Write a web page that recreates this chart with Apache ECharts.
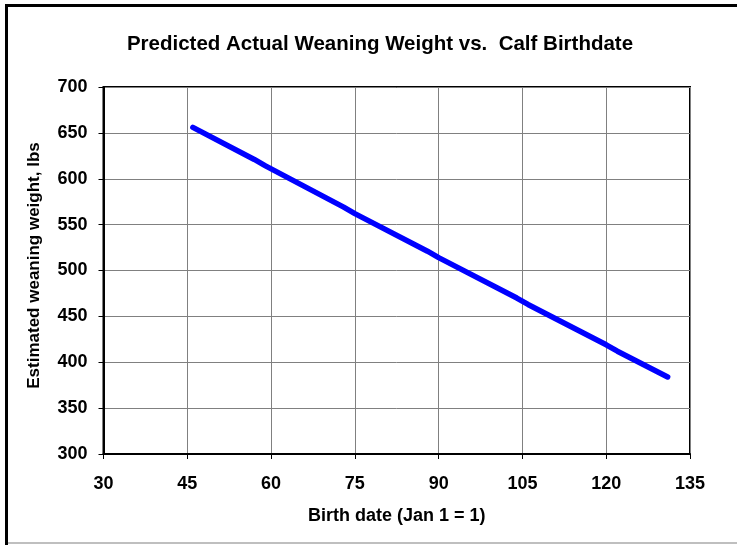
<!DOCTYPE html>
<html>
<head>
<meta charset="utf-8">
<script src="https://cdn.jsdelivr.net/npm/echarts@6/dist/echarts.min.js"></script>
<style>
  html, body { margin: 0; padding: 0; background: #fff; }
  #chart { width: 737px; height: 545px; }
</style>
</head>
<body>
<div id="chart"></div>
<script>
// 出生日期 (Jan 1 = 1) 和 预测断奶体重
const birthDays = [46, 57, 59, 73, 75, 88, 90, 104, 106, 120, 122, 131]
const weaningWeights = [656, 621, 614, 569, 562, 521, 514, 470, 463, 419, 412, 384]
const xTicks = [30, 45, 60, 75, 90, 105, 120, 135]
const yTicks = [300, 350, 400, 450, 500, 550, 600, 650, 700]

const FONT = '"Liberation Sans", Arial, sans-serif'
const chart = echarts.init(document.getElementById('chart'))

const option = {
  animation: false,
  backgroundColor: '#fff',
  title: {
    text: 'Predicted Actual Weaning Weight vs.  Calf Birthdate',
    left: 375,
    top: 29,
    textAlign: 'center',
    textStyle: {
      fontFamily: FONT,
      fontWeight: 700,
      fontSize: 20.5,
      color: '#000'
    }
  },
  grid: {
    left: 103.5,
    right: 47,
    top: 87,
    bottom: 91,
    show: true,
    borderColor: '#000',
    borderWidth: 2
  },
  xAxis: {
    type: 'value',
    min: xTicks[0],
    max: xTicks[xTicks.length - 1],
    interval: 15,
    name: 'Birth date (Jan 1 = 1)',
    nameLocation: 'middle',
    nameGap: 53,
    nameTextStyle: { fontFamily: FONT, fontWeight: 700, fontSize: 18, color: '#000' },
    axisLine: { show: true, onZero: false, lineStyle: { color: '#000', width: 2 } },
    axisTick: { show: true, length: 5, lineStyle: { color: '#000' } },
    axisLabel: { margin: 21, fontFamily: FONT, fontWeight: 700, fontSize: 18, color: '#000' },
    splitLine: { show: true, lineStyle: { color: '#808080', width: 1 } }
  },
  yAxis: {
    type: 'value',
    min: yTicks[0],
    max: yTicks[yTicks.length - 1],
    interval: 50,
    name: 'Estimated weaning weight, lbs',
    nameLocation: 'middle',
    nameGap: 61,
    nameRotate: 90,
    nameTextStyle: { fontFamily: FONT, fontWeight: 700, fontSize: 17, color: '#000', padding: [0, 0, 0, 10] },
    axisLine: { show: true, onZero: false, lineStyle: { color: '#000', width: 2 } },
    axisTick: { show: true, length: 5, lineStyle: { color: '#000' } },
    axisLabel: { margin: 16, fontFamily: FONT, fontWeight: 700, fontSize: 18, color: '#000' },
    splitLine: { show: true, lineStyle: { color: '#808080', width: 1 } }
  },
  series: [{
    type: 'line',
    data: birthDays.map((d, i) => [d, weaningWeights[i]]),
    showSymbol: false,
    lineStyle: { color: '#0000ff', width: 5.5, cap: 'round', join: 'round' },
    itemStyle: { color: '#0000ff' }
  }],
  graphic: [
    // 外框
    {
      type: 'polyline',
      shape: { points: [[6.5, 545], [6.5, 5.5], [737, 5.5]] },
      style: { stroke: '#000', lineWidth: 3, fill: null }
    },
    {
      type: 'line',
      shape: { x1: 8, y1: 543, x2: 737, y2: 543 },
      style: { stroke: '#aaa', lineWidth: 1.5 }
    }
  ]
}
chart.setOption(option)
</script>
</body>
</html>
